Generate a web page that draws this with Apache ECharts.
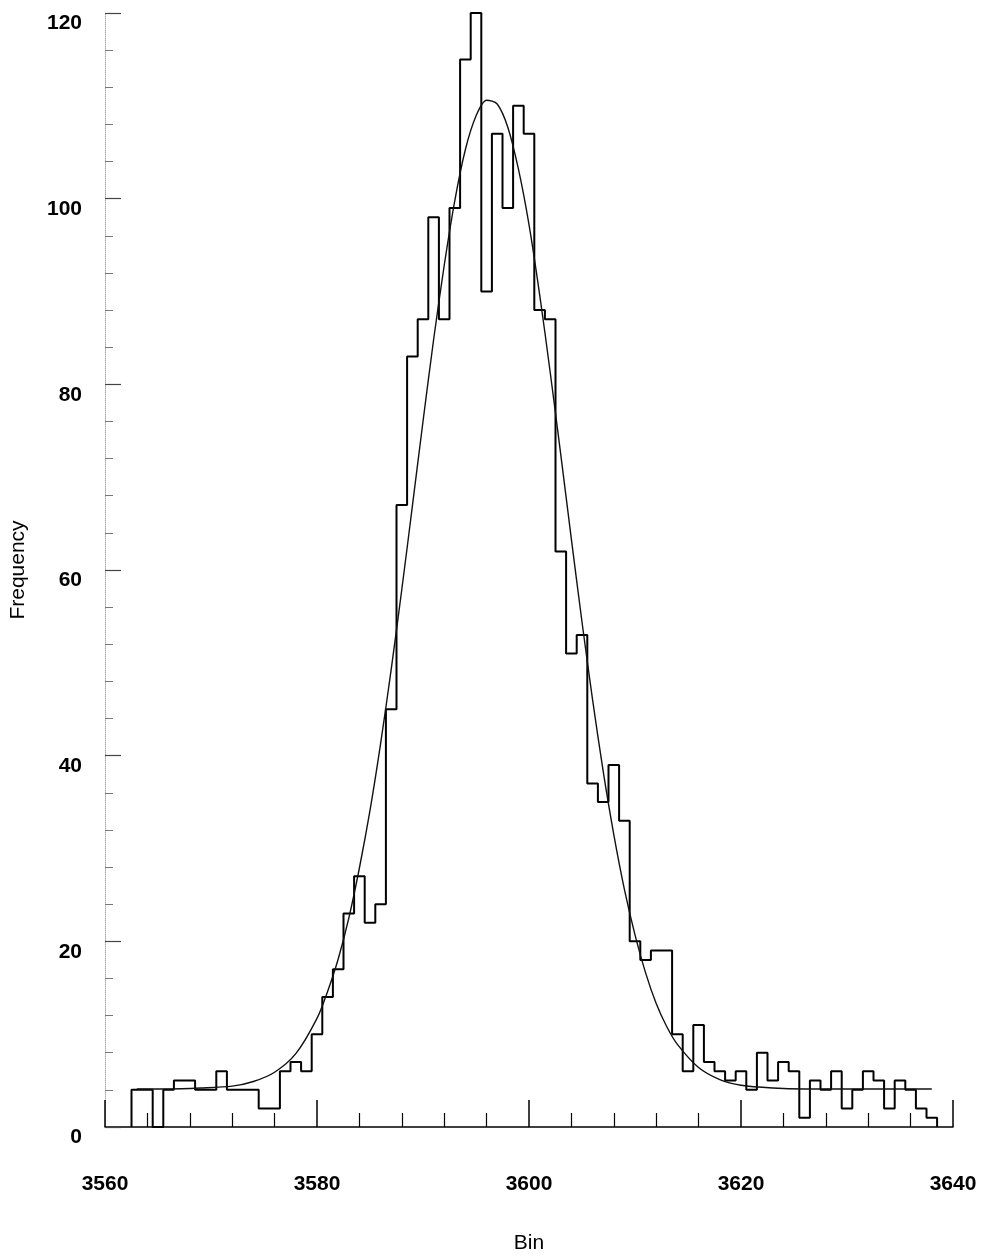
<!DOCTYPE html>
<html>
<head>
<meta charset="utf-8">
<script src="https://cdn.jsdelivr.net/npm/echarts@6/dist/echarts.min.js"></script>
<style>
  html, body { margin: 0; padding: 0; background: #fff; }
  #chart { width: 987px; height: 1260px; }
</style>
</head>
<body>
<div id="chart"></div>
<script>
// histogram: one count per bin, bins centred on integers starting at binStart
const binStart = 3563
const counts = [
  4, 4, 0, 4, 5, 5, 4, 4, 6, 4, 4, 4, 2, 2, 6, 7, 6,          // 3563-3579
  10, 14, 17, 23, 27, 22, 24, 45, 67, 83, 87, 98, 87, 99,      // 3580-3593
  115, 120, 90, 107, 99, 110, 107, 88, 87, 62, 51, 53,         // 3594-3605
  37, 35, 39, 33, 20, 18, 19, 19, 10, 6, 11, 7, 6, 5, 6,       // 3606-3620
  4, 8, 5, 7, 6, 1, 5, 4, 6, 2, 4, 6, 5, 2, 5, 4, 2, 1         // 3621-3638
]

// fitted curve
const fitX = [3563, 3566, 3569, 3572, 3574, 3576, 3578, 3580, 3581, 3582, 3583, 3584, 3585,
  3586, 3587, 3588, 3589, 3590, 3591, 3592, 3593, 3594, 3595, 3596, 3597, 3598, 3599, 3600,
  3601, 3602, 3603, 3604, 3605, 3606, 3607, 3608, 3609, 3610, 3611, 3612, 3613, 3614, 3616,
  3618, 3620, 3623, 3626, 3630, 3634, 3638]
const fitY = [4.1, 4.1, 4.2, 4.4, 4.9, 5.9, 7.9, 11.7, 14.6, 18.1, 22.5, 27.9, 34.1,
  41.3, 49.3, 57.9, 66.9, 76.0, 84.8, 92.8, 99.8, 105.3, 108.9, 110.6, 110.2, 107.7, 103.2, 97.2,
  89.7, 81.3, 72.4, 63.3, 54.4, 46.0, 38.3, 31.5, 25.6, 20.7, 16.6, 13.3, 10.8, 8.9, 6.4,
  5.1, 4.5, 4.2, 4.1, 4.1, 4.1, 4.1]

const xTicks = [3560, 3640, 20]   // min, max, interval
const yTicks = [0, 120, 20]

// outline of the bars: left edges, then close down to zero on the right
const stepData = [[binStart - 0.5, 0]]
counts.forEach((c, i) => stepData.push([binStart - 0.5 + i, c]))
stepData.push([binStart - 0.5 + counts.length, 0])

const fitData = fitX.map((x, i) => [x, fitY[i]])

const FONT = "Liberation Sans, Arial, sans-serif"
const labelFont = { fontFamily: FONT, fontSize: 21, fontWeight: "bold", color: "#000", formatter: v => String(v) }

const chart = echarts.init(document.getElementById("chart"))
chart.setOption({
  animation: false,
  backgroundColor: "#fff",
  grid: { left: 104, right: 34, top: 13, bottom: 133, containLabel: false },
  xAxis: {
    type: "value",
    min: xTicks[0], max: xTicks[1], interval: xTicks[2],
    name: "Bin",
    nameLocation: "middle",
    nameGap: 106,
    nameTextStyle: { fontFamily: FONT, fontSize: 21, color: "#000" },
    axisLine: { show: true, lineStyle: { color: "#000", width: 1.5 } },
    axisTick: { show: true, inside: true, length: 27, lineStyle: { color: "#000", width: 1.5 } },
    minorTick: { show: true, splitNumber: 5, length: 14, lineStyle: { color: "#000", width: 1.2 } },
    axisLabel: { ...labelFont, margin: 47 },
    splitLine: { show: false },
  },
  yAxis: {
    type: "value",
    min: yTicks[0], max: yTicks[1], interval: yTicks[2],
    name: "Frequency",
    nameLocation: "middle",
    nameGap: 76,
    nameTextStyle: { fontFamily: FONT, fontSize: 21, color: "#000" },
    axisLine: { show: true, lineStyle: { color: "#aaa", width: 1, type: "dotted" } },
    axisTick: { show: true, inside: true, length: 16, lineStyle: { color: "#444", width: 1.2 } },
    minorTick: { show: true, splitNumber: 5, length: 8, lineStyle: { color: "#777", width: 1 } },
    axisLabel: { ...labelFont, margin: 23, verticalAlign: "top" },
    splitLine: { show: false },
  },
  series: [
    {
      type: "line",
      step: "end",
      data: stepData,
      symbol: "none",
      lineStyle: { color: "#000", width: 2 },
      z: 3,
    },
    {
      type: "line",
      data: fitData,
      smooth: 0.3,
      symbol: "none",
      lineStyle: { color: "#111", width: 1.4 },
      z: 4,
    },
  ],
})
</script>
</body>
</html>
